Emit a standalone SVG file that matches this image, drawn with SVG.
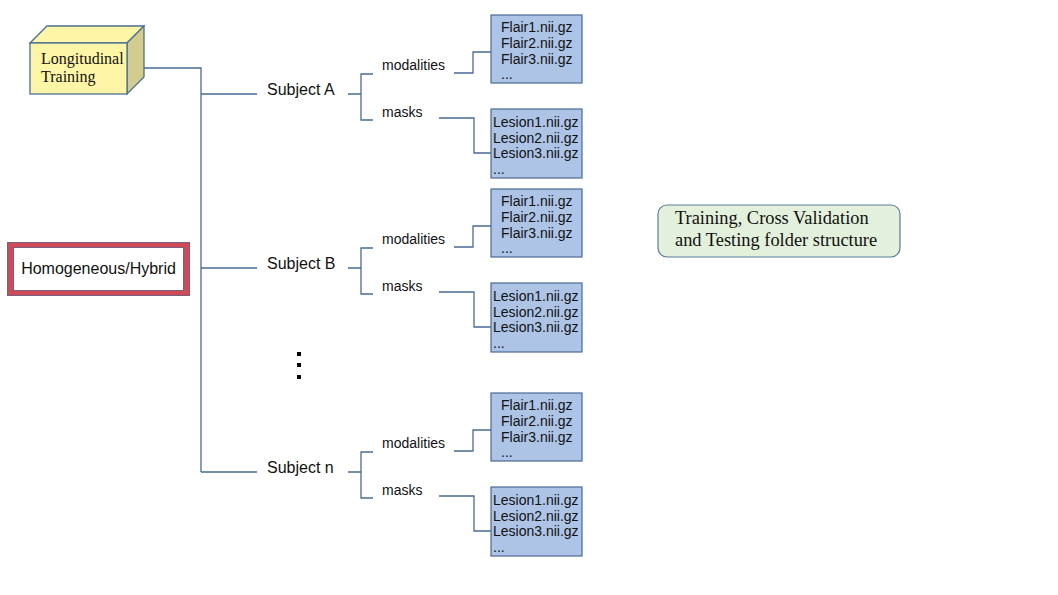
<svg xmlns="http://www.w3.org/2000/svg" width="1058" height="595" viewBox="0 0 1058 595">
  <style>
    .sans { font-family: "Liberation Sans", Arial, sans-serif; fill: #111; }
    .serif { font-family: "Liberation Serif", "Times New Roman", serif; fill: #111; }
    .file { fill: #adc4e7; stroke: #4a6a92; stroke-width: 1.2; }
    .wire { fill: none; stroke: #4a6a95; stroke-width: 1.3; }
    .ftxt { font-size: 14px; }
    .sub { font-size: 16px; }
    .lbl { font-size: 14px; }
  </style>
  <defs>
    <!-- one subject: bracket, two labels and two file boxes, drawn relative to the subject branch -->
    <g id="subtree">
      <path class="wire" d="M348,0 H361 M373,-20 H361 V26 H373"/>
      <path class="wire" d="M454,-21 H473 V-42 H492"/>
      <path class="wire" d="M439,24 H474 V59 H492"/>
      <text class="sans lbl" x="382" y="-24">modalities</text>
      <text class="sans lbl" x="382" y="23">masks</text>
      <rect class="file" x="491" y="-79" width="91" height="68"/>
      <text class="sans ftxt" x="501" y="-62">Flair1.nii.gz</text>
      <text class="sans ftxt" x="501" y="-46">Flair2.nii.gz</text>
      <text class="sans ftxt" x="501" y="-30">Flair3.nii.gz</text>
      <text class="sans ftxt" x="501" y="-15">...</text>
      <rect class="file" x="491" y="15" width="91" height="69"/>
      <text class="sans ftxt" x="493" y="33">Lesion1.nii.gz</text>
      <text class="sans ftxt" x="493" y="49">Lesion2.nii.gz</text>
      <text class="sans ftxt" x="493" y="64">Lesion3.nii.gz</text>
      <text class="sans ftxt" x="493" y="80">...</text>
    </g>
  </defs>

  <rect width="1058" height="595" fill="#ffffff"/>

  <!-- connectors -->
  <g id="connectors">
    <path class="wire" d="M127,68 H201 V472"/>
    <path class="wire" d="M201,94 H257"/>
    <path class="wire" d="M201,268 H257"/>
    <path class="wire" d="M201,472 H257"/>
  </g>

  <!-- root cube -->
  <g id="longitudinal-training">
    <polygon points="30,43 47,26 144,26 127,43" fill="#fff5a6" stroke="#4a6f96" stroke-width="1.3"/>
    <polygon points="127,43 144,26 144,77 127,94" fill="#d2cd8e" stroke="#4a6f96" stroke-width="1.3"/>
    <rect x="30" y="43" width="97" height="51" fill="#fff5a6" stroke="#4a6f96" stroke-width="1.3"/>
    <text class="serif" font-size="16" x="41" y="64">Longitudinal</text>
    <text class="serif" font-size="16" x="41" y="82">Training</text>
  </g>

  <!-- dataset type -->
  <g id="homogeneous-hybrid">
    <rect x="7.5" y="242.5" width="182" height="53" fill="#d04a56" stroke="#7a6080" stroke-width="1"/>
    <rect x="13.5" y="247.5" width="170" height="43" fill="#ffffff" stroke="#7a6080" stroke-width="1"/>
    <text class="sans" font-size="16" x="98.5" y="274" text-anchor="middle">Homogeneous/Hybrid</text>
  </g>

  <!-- title -->
  <g id="title">
    <rect x="658" y="205" width="242" height="52" rx="9" fill="#e3f0dc" stroke="#5a7d9a" stroke-width="1.2"/>
    <text class="serif" font-size="18.4" x="675" y="224">Training, Cross Validation</text>
    <text class="serif" font-size="18.4" x="675" y="246">and Testing folder structure</text>
  </g>

  <!-- subjects -->
  <g id="subject-a">
    <text class="sans sub" x="267" y="95">Subject A</text>
    <use href="#subtree" transform="translate(0,94)"/>
  </g>
  <g id="subject-b">
    <text class="sans sub" x="267" y="269">Subject B</text>
    <use href="#subtree" transform="translate(0,268)"/>
  </g>
  <g id="subject-n">
    <text class="sans sub" x="267" y="473">Subject n</text>
    <use href="#subtree" transform="translate(0,472)"/>
  </g>

  <!-- vertical ellipsis -->
  <g id="ellipsis" fill="#000">
    <rect x="297" y="352" width="4" height="4"/>
    <rect x="297" y="363" width="4" height="4"/>
    <rect x="297" y="375" width="4" height="4"/>
  </g>
</svg>
